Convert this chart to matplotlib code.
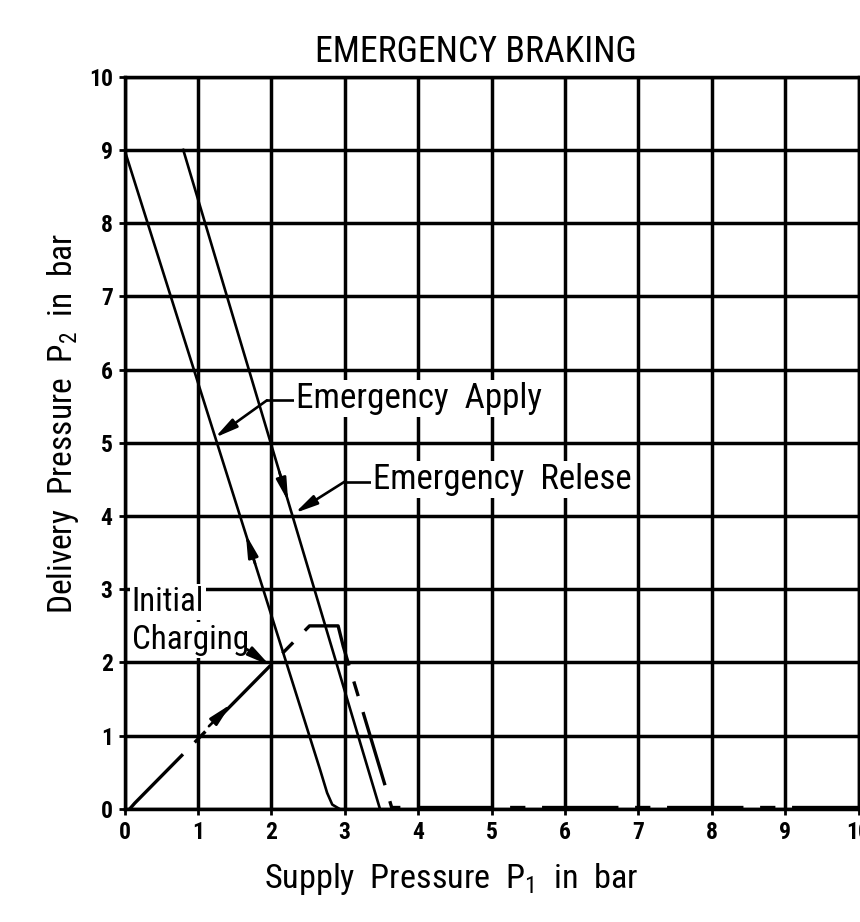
import numpy as np
import matplotlib
matplotlib.use('Agg')
import matplotlib.pyplot as plt
from matplotlib import font_manager as fm

#============================================================
# chart data
#============================================================
apply_p1 = [0.0, 2.66, 2.76, 2.83, 2.93]
apply_p2 = [9.0, 0.55, 0.22, 0.06, 0.0]

release_p1 = [0.80, 3.48]
release_p2 = [9.0, 0.0]

charging_p1 = [0.07, 0.14, 2.52, 2.91, 2.98, 3.64, 10.0]
charging_p2 = [0.0, 0.08, 2.5, 2.5, 2.22, 0.02, 0.02]

x_ticks = list(range(0, 11))
y_ticks = list(range(0, 11))

TITLE = 'EMERGENCY BRAKING'
XLABEL = 'Supply  Pressure  P$_1$  in  bar'
YLABEL = 'Delivery  Pressure  P$_2$  in  bar'
#============================================================


def pickFont(p_candidates):
    # first narrow-ish family that is really installed
    for l_name in p_candidates:
        try:
            fm.findfont(fm.FontProperties(family=l_name), fallback_to_default=False)
            return l_name
        except ValueError:
            pass
    return 'DejaVu Sans'


FONT = pickFont(['Liberation Sans Narrow', 'Roboto Condensed', 'Open Sans Condensed',
                 'Noto Sans Condensed', 'DejaVu Sans Condensed', 'Roboto', 'Liberation Sans'])
plt.rcParams['font.family'] = [FONT, 'DejaVu Sans']
plt.rcParams['mathtext.fontset'] = 'custom'
plt.rcParams['mathtext.rm'] = FONT
plt.rcParams['mathtext.it'] = FONT
plt.rcParams['lines.scale_dashes'] = False

GRID_LW = 2.5
LINE_LW = 1.9

fig = plt.figure(figsize=(8.6, 9.22), dpi=100)
ax = fig.add_axes([0.1448, 0.1226, 0.8535, 0.7943])

ax.set_xlim(0, 10)
ax.set_ylim(0, 10)
ax.set_xticks(x_ticks)
ax.set_yticks(y_ticks)
ax.grid(True, color='black', linewidth=GRID_LW)
for sp in ax.spines.values():
    sp.set_linewidth(GRID_LW)
ax.tick_params(direction='out', length=4.5, width=2, pad=4, labelsize=17)
for lab in ax.get_xticklabels() + ax.get_yticklabels():
    lab.set_fontweight('bold')
ax.set_axisbelow(True)

# curves
ax.plot(apply_p1, apply_p2, color='black', lw=LINE_LW, solid_joinstyle='round')
ax.plot(release_p1, release_p2, color='black', lw=LINE_LW)
ax.plot(charging_p1, charging_p2, color='black', lw=LINE_LW + 0.5,
        dashes=(55, 12, 11, 12), clip_on=False)

arrow_kw = dict(arrowstyle='-|>,head_length=0.9,head_width=0.2',
                color='black', lw=LINE_LW, shrinkA=0, shrinkB=0,
                mutation_scale=15)


def arrowOn(px, py, y_tail, y_tip):
    # arrow head sitting on a curve, between two heights
    order = np.argsort(py)
    xs = np.array(px)[order]
    ys = np.array(py)[order]
    x_tail = np.interp(y_tail, ys, xs)
    x_tip = np.interp(y_tip, ys, xs)
    ax.annotate('', xy=(x_tip, y_tip), xytext=(x_tail, y_tail), arrowprops=arrow_kw)


arrowOn(apply_p1, apply_p2, 3.35, 3.75)
arrowOn(release_p1, release_p2, 4.6, 4.2)
ax.annotate('', xy=(1.45, 1.43), xytext=(1.15, 1.13), arrowprops=arrow_kw)

# labels with leaders
box = dict(facecolor='white', edgecolor='none', pad=1.5)
LBL = 24

t_apply = ax.text(2.34, 5.60, 'Emergency  Apply', fontsize=LBL, ha='left', va='center', bbox=box)
ax.plot([2.34, 1.94], [5.58, 5.58], color='black', lw=LINE_LW)
ax.annotate('', xy=(1.23, 5.07), xytext=(1.94, 5.58), arrowprops=arrow_kw)

t_rel = ax.text(3.39, 4.50, 'Emergency  Relese', fontsize=LBL, ha='left', va='center', bbox=box)
ax.plot([3.39, 3.0], [4.47, 4.47], color='black', lw=LINE_LW)
ax.annotate('', xy=(2.32, 4.04), xytext=(3.0, 4.47), arrowprops=arrow_kw)

t_init = ax.text(0.10, 2.83, 'Initial', fontsize=LBL, ha='left', va='center', bbox=box)
t_chg = ax.text(0.10, 2.31, 'Charging', fontsize=LBL, ha='left', va='center', bbox=box)
ax.annotate('', xy=(1.98, 1.96), xytext=(1.67, 2.18), arrowprops=arrow_kw)

t_title = fig.text(476 / 860, 1 - 62 / 922, TITLE, fontsize=30, ha='center', va='baseline')
t_x = fig.text(451 / 860, 1 - 888 / 922, XLABEL, fontsize=LBL, ha='center', va='baseline')
t_y = fig.text(72 / 860, 1 - 424 / 922, YLABEL, fontsize=LBL, ha='center', va='baseline',
               rotation=90, rotation_mode='anchor')

# scale every text so its length matches the reference (pixels)
fig.canvas.draw()
l_renderer = fig.canvas.get_renderer()
for l_txt, l_len, l_vertical in [(t_title, 322, False), (t_x, 375, False), (t_y, 381, True),
                                  (t_apply, 247, False), (t_rel, 260, False),
                                  (t_init, 72, False), (t_chg, 117, False)]:
    l_box = l_txt.get_window_extent(l_renderer)
    l_now = l_box.height if l_vertical else l_box.width
    l_txt.set_fontsize(min(l_txt.get_fontsize() * l_len / l_now, 32))

fig.savefig('out.png', dpi=100)
